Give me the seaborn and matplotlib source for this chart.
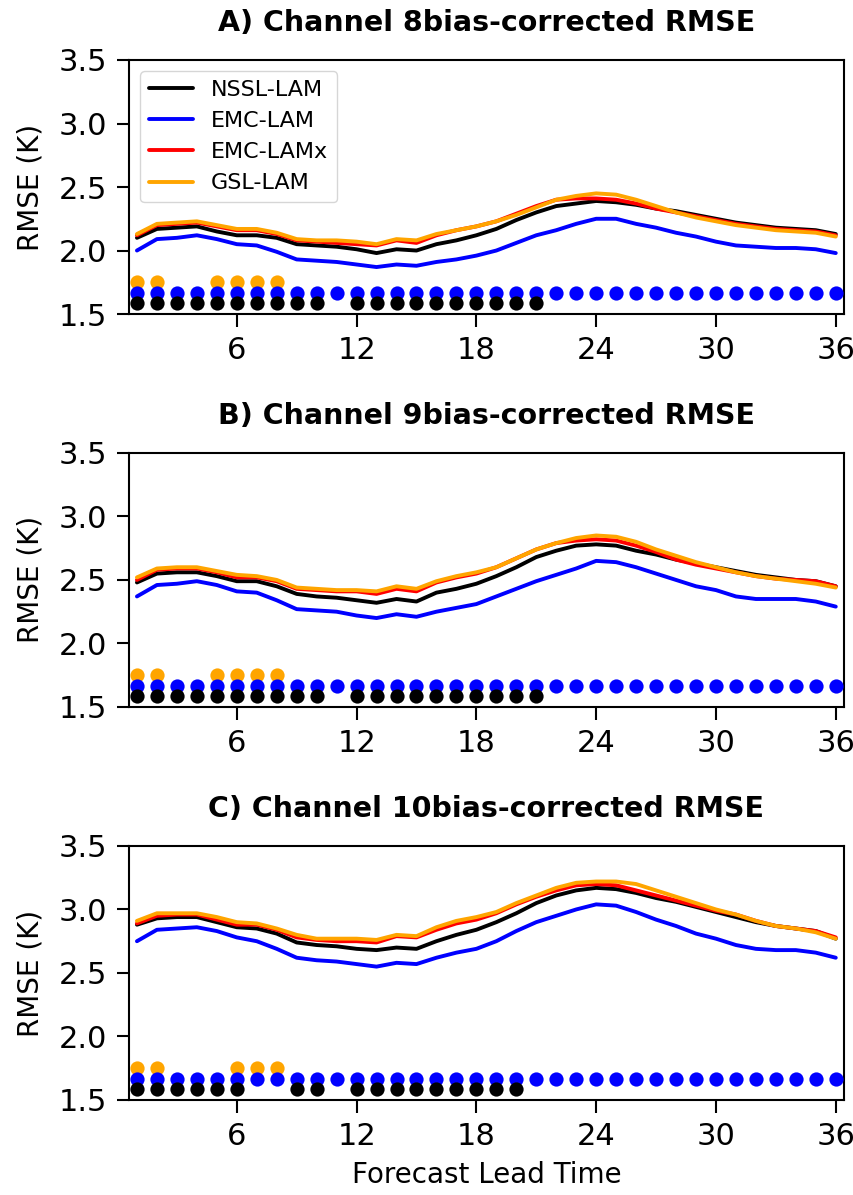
import matplotlib
matplotlib.use("Agg")
import matplotlib.pyplot as plt
import seaborn as sns
import pandas as pd

# ---------------- data ----------------
hours = list(range(1, 37))
models = ["NSSL-LAM", "EMC-LAM", "EMC-LAMx", "GSL-LAM"]
colors = ["#000000", "#0000ff", "#ff0000", "#ffa500"]
titles = ["A) Channel 8bias-corrected RMSE",
          "B) Channel 9bias-corrected RMSE",
          "C) Channel 10bias-corrected RMSE"]

A_nssl = [2.10, 2.17, 2.18, 2.19, 2.15, 2.12, 2.12, 2.10, 2.05, 2.04, 2.03, 2.01, 1.98, 2.01, 2.00, 2.05, 2.08, 2.12,
          2.17, 2.24, 2.30, 2.35, 2.37, 2.39, 2.38, 2.36, 2.33, 2.31, 2.28, 2.25, 2.22, 2.20, 2.18, 2.17, 2.16, 2.13]
A_emc = [2.00, 2.09, 2.10, 2.12, 2.09, 2.05, 2.04, 1.99, 1.93, 1.92, 1.91, 1.89, 1.87, 1.89, 1.88, 1.91, 1.93, 1.96,
         2.00, 2.06, 2.12, 2.16, 2.21, 2.25, 2.25, 2.21, 2.18, 2.14, 2.11, 2.07, 2.04, 2.03, 2.02, 2.02, 2.01, 1.98]
A_emcx = [2.12, 2.20, 2.21, 2.22, 2.19, 2.16, 2.16, 2.13, 2.08, 2.07, 2.06, 2.05, 2.04, 2.08, 2.06, 2.12, 2.16, 2.19,
          2.23, 2.29, 2.35, 2.40, 2.41, 2.41, 2.40, 2.37, 2.33, 2.30, 2.27, 2.24, 2.21, 2.19, 2.17, 2.16, 2.15, 2.12]
A_gsl = [2.13, 2.21, 2.22, 2.23, 2.20, 2.17, 2.17, 2.14, 2.09, 2.08, 2.08, 2.07, 2.05, 2.09, 2.08, 2.13, 2.16, 2.19,
         2.23, 2.28, 2.34, 2.40, 2.43, 2.45, 2.44, 2.40, 2.35, 2.30, 2.26, 2.23, 2.20, 2.18, 2.16, 2.15, 2.14, 2.11]

B_nssl = [2.48, 2.55, 2.56, 2.56, 2.53, 2.49, 2.49, 2.45, 2.39, 2.37, 2.36, 2.34, 2.32, 2.35, 2.33, 2.40, 2.43, 2.47,
          2.53, 2.60, 2.68, 2.73, 2.77, 2.78, 2.77, 2.73, 2.70, 2.66, 2.63, 2.60, 2.57, 2.54, 2.52, 2.50, 2.49, 2.45]
B_emc = [2.37, 2.46, 2.47, 2.49, 2.46, 2.41, 2.40, 2.34, 2.27, 2.26, 2.25, 2.22, 2.20, 2.23, 2.21, 2.25, 2.28, 2.31,
         2.37, 2.43, 2.49, 2.54, 2.59, 2.65, 2.64, 2.60, 2.55, 2.50, 2.45, 2.42, 2.37, 2.35, 2.35, 2.35, 2.33, 2.29]
B_emcx = [2.50, 2.58, 2.59, 2.59, 2.56, 2.52, 2.52, 2.49, 2.43, 2.42, 2.41, 2.41, 2.39, 2.43, 2.41, 2.48, 2.52, 2.55,
          2.60, 2.67, 2.74, 2.79, 2.81, 2.82, 2.81, 2.77, 2.72, 2.66, 2.62, 2.59, 2.56, 2.53, 2.51, 2.50, 2.49, 2.45]
B_gsl = [2.52, 2.59, 2.60, 2.60, 2.57, 2.54, 2.53, 2.50, 2.44, 2.43, 2.42, 2.42, 2.41, 2.45, 2.43, 2.49, 2.53, 2.56,
         2.60, 2.67, 2.74, 2.79, 2.83, 2.85, 2.84, 2.80, 2.74, 2.69, 2.64, 2.60, 2.56, 2.53, 2.51, 2.49, 2.47, 2.44]

C_nssl = [2.88, 2.93, 2.94, 2.94, 2.90, 2.86, 2.85, 2.81, 2.74, 2.72, 2.71, 2.69, 2.68, 2.70, 2.69, 2.75, 2.80, 2.84,
          2.90, 2.97, 3.05, 3.11, 3.15, 3.17, 3.16, 3.13, 3.09, 3.06, 3.02, 2.98, 2.94, 2.90, 2.87, 2.85, 2.83, 2.77]
C_emc = [2.75, 2.84, 2.85, 2.86, 2.83, 2.78, 2.75, 2.69, 2.62, 2.60, 2.59, 2.57, 2.55, 2.58, 2.57, 2.62, 2.66, 2.69,
         2.75, 2.83, 2.90, 2.95, 3.00, 3.04, 3.03, 2.98, 2.92, 2.87, 2.81, 2.77, 2.72, 2.69, 2.68, 2.68, 2.66, 2.62]
C_emcx = [2.89, 2.95, 2.96, 2.96, 2.92, 2.88, 2.88, 2.84, 2.78, 2.76, 2.75, 2.75, 2.74, 2.79, 2.78, 2.84, 2.89, 2.92,
          2.97, 3.04, 3.10, 3.15, 3.19, 3.20, 3.19, 3.15, 3.11, 3.07, 3.03, 2.99, 2.96, 2.91, 2.87, 2.85, 2.83, 2.78]
C_gsl = [2.91, 2.97, 2.97, 2.97, 2.94, 2.90, 2.89, 2.85, 2.80, 2.77, 2.77, 2.77, 2.76, 2.80, 2.79, 2.86, 2.91, 2.94,
         2.98, 3.05, 3.11, 3.17, 3.21, 3.22, 3.22, 3.20, 3.15, 3.10, 3.05, 3.00, 2.96, 2.91, 2.87, 2.85, 2.82, 2.77]

# hours with significant differences (dots near the bottom)
A_sig_gsl = [1, 2, 5, 6, 7, 8]
A_sig_emc = hours
A_sig_nssl = [1, 2, 3, 4, 5, 6, 7, 8, 9, 10, 12, 13, 14, 15, 16, 17, 18, 19, 20, 21]
B_sig_gsl = [1, 2, 5, 6, 7, 8]
B_sig_emc = hours
B_sig_nssl = [1, 2, 3, 4, 5, 6, 7, 8, 9, 10, 12, 13, 14, 15, 16, 17, 18, 19, 20, 21]
C_sig_gsl = [1, 2, 6, 7, 8]
C_sig_emc = hours
C_sig_nssl = [1, 2, 3, 4, 5, 6, 9, 10, 12, 13, 14, 15, 16, 17, 18, 19, 20]

xticks = [6, 12, 18, 24, 30, 36]
yticks = [1.5, 2.0, 2.5, 3.0, 3.5]

panels = [
    (titles[0], [A_nssl, A_emc, A_emcx, A_gsl], A_sig_gsl, A_sig_emc, A_sig_nssl),
    (titles[1], [B_nssl, B_emc, B_emcx, B_gsl], B_sig_gsl, B_sig_emc, B_sig_nssl),
    (titles[2], [C_nssl, C_emc, C_emcx, C_gsl], C_sig_gsl, C_sig_emc, C_sig_nssl),
]

# ---------------- style ----------------
sns.set_theme(style="ticks")
plt.rcParams["font.family"] = ["DejaVu Sans"]
for key in ["text.color", "axes.labelcolor", "xtick.color", "ytick.color", "axes.edgecolor"]:
    plt.rcParams[key] = "black"
plt.rcParams["axes.linewidth"] = 1.5

fig = plt.figure(figsize=(8.54, 11.95), dpi=100)
boxes = [0.7372, 0.4084, 0.0795]
height = 0.2126
palette = dict(zip(models, colors))
dot_levels = {"GSL-LAM": 1.75, "EMC-LAM": 1.665, "NSSL-LAM": 1.585}

for i, (title, series, sig_gsl, sig_emc, sig_nssl) in enumerate(panels):
    ax = fig.add_axes([0.151, boxes[i], 0.837, height])
    rows = []
    for m, vals in zip(models, series):
        for h, v in zip(hours, vals):
            rows.append({"hour": h, "rmse": v, "model": m})
    df = pd.DataFrame(rows)
    sns.lineplot(data=df, x="hour", y="rmse", hue="model", hue_order=models,
                 palette=palette, linewidth=2.8, ax=ax, legend=(i == 0))

    for m, sig in [("GSL-LAM", sig_gsl), ("EMC-LAM", sig_emc), ("NSSL-LAM", sig_nssl)]:
        sdf = pd.DataFrame({"hour": sig, "lvl": [dot_levels[m]] * len(sig)})
        sns.scatterplot(data=sdf, x="hour", y="lvl", color=palette[m], s=105,
                        linewidth=0, ax=ax, legend=False, zorder=3, clip_on=False)

    ax.set_xlim(0.6, 36.4)
    ax.set_ylim(1.5, 3.5)
    ax.set_xticks(xticks)
    ax.set_yticks(yticks)
    ax.set_yticklabels([f"{t:.1f}" for t in yticks])
    ax.tick_params(axis="both", labelsize=22, length=9, width=1.5, pad=7, color="black",
                   labelcolor="black")
    ax.set_ylabel("RMSE (K)", fontsize=20, labelpad=10)
    ax.set_xlabel("Forecast Lead Time" if i == 2 else "", fontsize=20, labelpad=7)
    ax.set_title(title, fontsize=20.5, fontweight="bold", pad=21)
    for sp in ax.spines.values():
        sp.set_visible(True)
        sp.set_color("black")
        sp.set_linewidth(1.5)

    if i == 0:
        leg = ax.get_legend()
        handles = leg.legend_handles
        labels = [t.get_text() for t in leg.get_texts()]
        for h in handles:
            h.set_linewidth(2.8)
        ax.legend(handles, labels, loc="upper left", fontsize=16, frameon=True,
                  framealpha=0.8, edgecolor="0.8", handlelength=2.0, labelcolor="black")

fig.savefig("out.png", dpi=100)
